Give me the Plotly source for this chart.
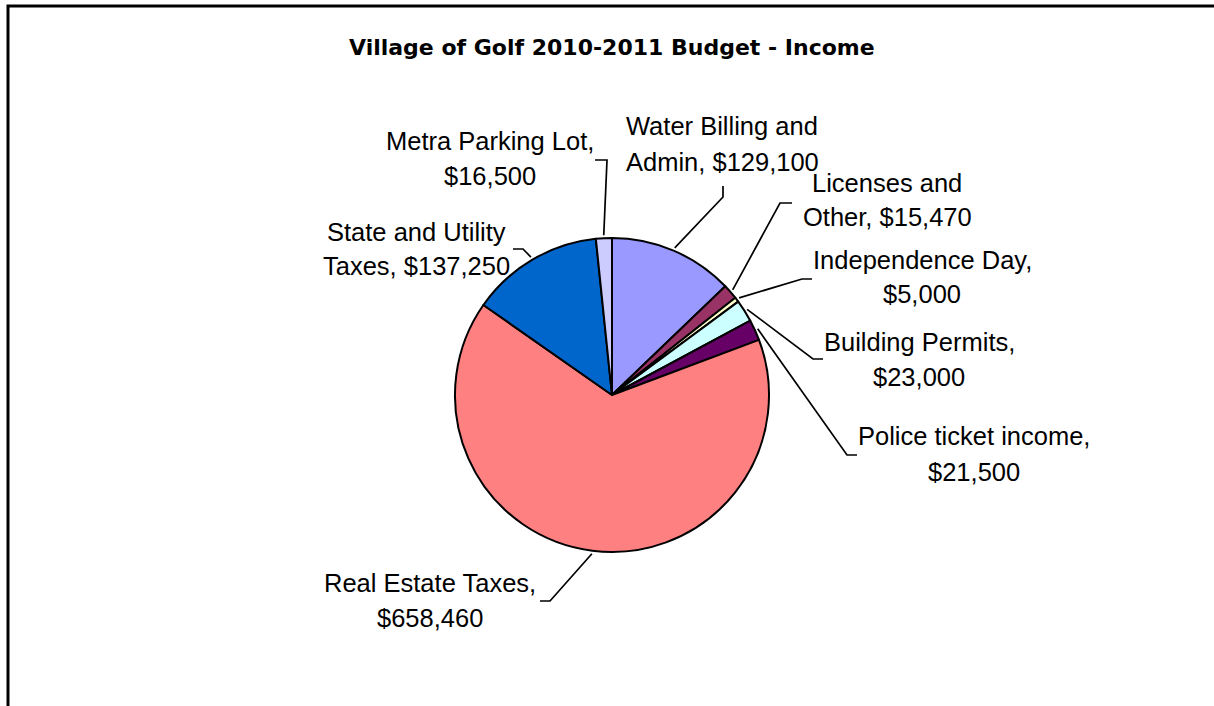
import math
import plotly.graph_objects as go

# ---- data ----
categories = ["Water Billing and<br>Admin", "Licenses and<br>Other", "Independence Day",
              "Building Permits", "Police ticket income", "Real Estate Taxes",
              "State and Utility<br>Taxes", "Metra Parking Lot"]
values = [129100, 15470, 5000, 23000, 21500, 658460, 137250, 16500]
colors = ["#9999FF", "#993366", "#FFFFCC", "#CCFFFF", "#660066", "#FF8080", "#0066CC", "#CCCCFF"]
title_text = "Village of Golf 2010-2011 Budget - Income"

# ---- layout (pixels) ----
W, H = 1214, 706
CX, CY, R = 612, 395, 157
# label centre (x, mid y) and leader elbow points (outer end, elbow)
label_pos = [(722, 144), (887, 200), (922, 277), (919, 359), (974, 454),
             (430, 600), (416, 249), (490, 158)]
leader_elbows = [((723, 186), (723, 197)), ((792, 203), (780, 203)),
                 ((812, 279), (802, 279)), ((823, 359), (813, 359)),
                 ((857, 455), (847, 455)), ((540, 601), (550, 601)),
                 ((513, 249), (523, 249)), ((595, 160), (607, 160))]
LINE_GAP = 35


def px(x):
    return x / W


def py(y):
    return 1 - y / H


fig = go.Figure(go.Pie(
    labels=[c.replace("<br>", " ") for c in categories],
    values=values,
    sort=False,
    direction="clockwise",
    rotation=0,
    marker=dict(colors=colors, line=dict(color="black", width=2)),
    textinfo="none",
    hoverinfo="label+value",
    showlegend=False,
    domain=dict(x=[px(CX - R), px(CX + R)], y=[py(CY + R), py(CY - R)]),
))

total = sum(values)
annotations = []
shapes = []
cum = 0.0
for name, v, (lx, ly), (p1, p2) in zip(categories, values, label_pos, leader_elbows):
    mid = (cum + v / 2) / total * 2 * math.pi
    cum += v
    ex = CX + (R + 3) * math.sin(mid)
    ey = CY - (R + 3) * math.cos(mid)
    sep = ", " if "<br>" in name else ",<br>"
    text = f"{name}{sep}${v:,}"
    lines = text.split("<br>")
    for i, line in enumerate(lines):
        yy = ly + (i - (len(lines) - 1) / 2) * LINE_GAP
        annotations.append(dict(
            x=px(lx), y=py(yy), xref="paper", yref="paper", text=line,
            showarrow=False, xanchor="center", yanchor="middle",
            font=dict(family="Liberation Sans, Arial", size=25.5, color="black"),
        ))
    path = (f"M {px(p1[0])},{py(p1[1])} L {px(p2[0])},{py(p2[1])} "
            f"L {px(ex)},{py(ey)}")
    shapes.append(dict(type="path", xref="paper", yref="paper", path=path,
                       line=dict(color="black", width=1.7)))

annotations.append(dict(
    x=px(612), y=py(47), xref="paper", yref="paper", text=f"<b>{title_text}</b>",
    showarrow=False, xanchor="center", yanchor="middle",
    font=dict(family="DejaVu Sans", size=22, color="black"),
))

# chart frame
shapes.append(dict(type="rect", xref="paper", yref="paper",
                   x0=px(8), x1=px(1240), y0=py(740), y1=py(6),
                   line=dict(color="black", width=3)))

fig.update_layout(
    width=W, height=H,
    margin=dict(l=0, r=0, t=0, b=0),
    paper_bgcolor="white", plot_bgcolor="white",
    annotations=annotations, shapes=shapes,
)

fig.write_html("out.html", config={"displayModeBar": False},
               post_script="document.body.style.margin='0';document.body.style.overflow='hidden';")
